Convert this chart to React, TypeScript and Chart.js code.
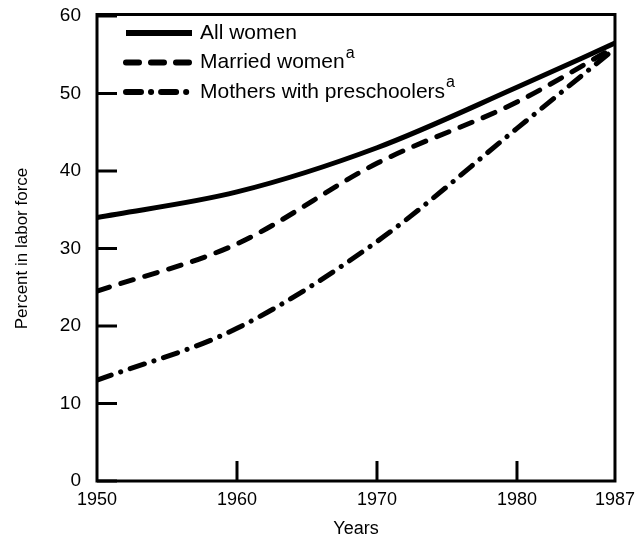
import { useEffect, useRef } from "react";
import { Chart, registerables } from "chart.js";

Chart.register(...registerables);

const years = [1950, 1960, 1970, 1980, 1987];
const allWomen = [34, 37.3, 43, 50.8, 56.5];
const marriedWomen = [24.5, 30.6, 41, 48.9, 56];
const mothersPreschoolers = [13, 19.7, 30.9, 45.5, 55.8];
const seriesLabels = ["All women", "Married women", "Mothers with preschoolers"];
const seriesSuperscripts = ["", "a", "a"];
const yMin = 0;
const yMax = 60;
const yStep = 10;
const xTickYears = [1950, 1960, 1970, 1980, 1987];

const FONT = '"Liberation Sans", Arial, Helvetica, sans-serif';
const DASHES: number[][] = [[], [13, 12], [15, 10, 0.1, 10]];

const framePlugin = {
  id: "frame",
  afterDatasetsDraw(chart: any) {
    const { ctx, chartArea: a, scales } = chart;
    ctx.save();
    ctx.strokeStyle = "#000";
    ctx.lineWidth = 3;
    ctx.lineJoin = "miter";
    ctx.setLineDash([]);
    ctx.strokeRect(a.left, a.top - 1.5, a.right - a.left, a.bottom - a.top + 1.5);
    const ys = scales.y;
    ys.ticks.forEach((t: any) => {
      const p = ys.getPixelForValue(t.value);
      ctx.beginPath();
      ctx.moveTo(a.left, p);
      ctx.lineTo(a.left + 20, p);
      ctx.stroke();
    });
    const xs = scales.x;
    xs.ticks.forEach((t: any) => {
      if (t.value === xs.min || t.value === xs.max) return;
      const p = xs.getPixelForValue(t.value);
      ctx.beginPath();
      ctx.moveTo(p, a.bottom);
      ctx.lineTo(p, a.bottom - 20);
      ctx.stroke();
    });
    ctx.restore();
  },
};

const legendPlugin = {
  id: "innerLegend",
  afterDraw(chart: any) {
    const { ctx, chartArea: a } = chart;
    ctx.save();
    chart.data.datasets.forEach((ds: any, i: number) => {
      const y = a.top + 17 + i * 29.5;
      ctx.beginPath();
      ctx.strokeStyle = "#000";
      ctx.lineWidth = 6;
      ctx.lineCap = i === 0 ? "butt" : "round";
      ctx.setLineDash(ds.borderDash || []);
      ctx.moveTo(a.left + 29, y);
      ctx.lineTo(a.left + 95, y);
      ctx.stroke();
      ctx.setLineDash([]);
      ctx.fillStyle = "#000";
      ctx.textBaseline = "middle";
      ctx.textAlign = "left";
      ctx.font = `21px ${FONT}`;
      const x0 = a.left + 103;
      ctx.fillText(ds.label, x0, y);
      const w = ctx.measureText(ds.label).width;
      const sup = seriesSuperscripts[i];
      if (sup) {
        ctx.font = `16px ${FONT}`;
        ctx.fillText(sup, x0 + w + 1, y - 9);
      }
    });
    ctx.restore();
  },
};

export default function App() {
  const ref = useRef<HTMLCanvasElement>(null);
  useEffect(() => {
    if (!ref.current) return;
    const series = [allWomen, marriedWomen, mothersPreschoolers];
    const chart = new Chart(ref.current, {
      type: "line",
      data: {
        datasets: series.map((vals, i) => ({
          label: seriesLabels[i],
          data: years.map((yr, j) => ({ x: yr, y: vals[j] })),
          borderColor: "#000",
          borderWidth: 5,
          borderDash: DASHES[i],
          borderCapStyle: i === 0 ? "butt" : "round",
          pointRadius: 0,
          cubicInterpolationMode: "monotone",
          fill: false,
        })),
      },
      options: {
        animation: false,
        responsive: false,
        maintainAspectRatio: false,
        layout: { padding: { top: 0, right: 25, left: 0, bottom: 0 } },
        plugins: {
          legend: { display: false },
          tooltip: { enabled: false },
        },
        scales: {
          x: {
            type: "linear",
            min: years[0],
            max: years[years.length - 1],
            afterBuildTicks: (scale: any) => {
              scale.ticks = xTickYears.map((v) => ({ value: v }));
            },
            afterFit: (scale: any) => {
              scale.height = 62;
            },
            grid: { display: false, drawTicks: false },
            border: { display: false },
            ticks: {
              color: "#000",
              padding: 8,
              font: { family: FONT, size: 18 },
              callback: (v: any) => String(v),
              maxRotation: 0,
            },
            title: {
              display: true,
              text: "Years",
              color: "#000",
              font: { family: FONT, size: 18 },
              padding: { top: 3, bottom: 3 },
            },
          },
          y: {
            min: yMin,
            max: yMax,
            afterFit: (scale: any) => {
              scale.width = 97;
            },
            grid: { display: false, drawTicks: false },
            border: { display: false },
            ticks: {
              stepSize: yStep,
              color: "#000",
              padding: 16,
              font: { family: FONT, size: 19, lineHeight: 0 },
            },
            title: {
              display: true,
              text: "Percent in labor force",
              color: "#000",
              font: { family: FONT, size: 17 },
              padding: { top: 12, bottom: 12 },
            },
          },
        },
      },
      plugins: [framePlugin, legendPlugin],
    } as any);
    return () => chart.destroy();
  }, []);
  return (
    <div style={{ position: "absolute", left: 0, top: 0, width: 643, height: 543, background: "#fff" }}>
      <canvas ref={ref} width={643} height={543} style={{ width: 643, height: 543 }} />
    </div>
  );
}
